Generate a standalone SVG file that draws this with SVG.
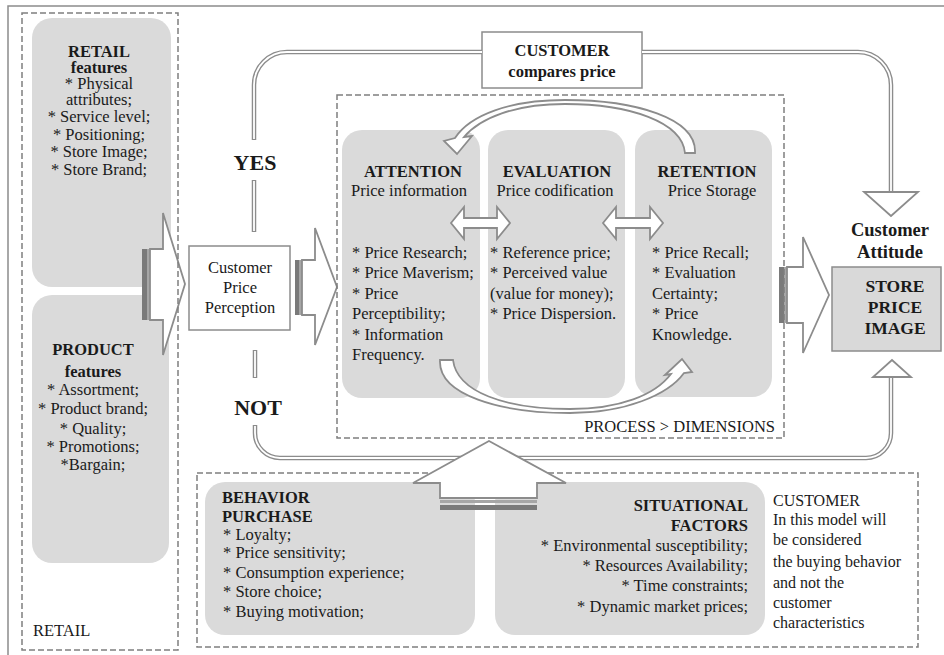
<svg xmlns="http://www.w3.org/2000/svg" width="944" height="655" viewBox="0 0 944 655" font-family="'Liberation Serif', 'Times New Roman', Times, serif">
<style>
text{font-family:'Liberation Serif','Times New Roman',Times,serif;fill:#1a1a1a;font-size:16.5px}
.b{font-weight:bold}
.c{text-anchor:middle}
.r{text-anchor:end}
.n{font-size:16px}
.gbox{fill:#dadada;stroke:none}
.dash{fill:none;stroke:#7f7f7f;stroke-width:1.5;stroke-dasharray:6 3}
.wbox{fill:#fff;stroke:#8c8c8c;stroke-width:1.5}
.arr{fill:#fff;stroke:#8c8c8c;stroke-width:1.8;stroke-linejoin:miter}
.lo{fill:none;stroke:#8c8c8c;stroke-width:4.5}
.li{fill:none;stroke:#fff;stroke-width:1.8}
.s1{fill:#7a7a7a}
.s2{fill:#a6a6a6}
</style>
<rect x="8" y="6" width="960" height="700" fill="none" stroke="#8c8c8c" stroke-width="1.5"/>

<g id="retail-features">
<rect class="gbox" x="32" y="18" width="139" height="269" rx="20"/>
<text class="b c" x="99" y="57">RETAIL</text>
<text class="b c" x="99" y="73">features</text>
<text class="c" x="99" y="89">* Physical</text>
<text class="c" x="99" y="105">attributes;</text>
<text class="c" x="99" y="122">* Service level;</text>
<text class="c" x="99" y="139.5">* Positioning;</text>
<text class="c" x="99" y="157">* Store Image;</text>
<text class="c" x="99" y="174.5">* Store Brand;</text>
</g>

<g id="product-features">
<rect class="gbox" x="32" y="295" width="137" height="268" rx="20"/>
<text class="b c" x="93" y="355">PRODUCT</text>
<text class="b c" x="93" y="377">features</text>
<text class="c" x="93" y="395">* Assortment;</text>
<text class="c" x="93" y="414">* Product brand;</text>
<text class="c" x="93" y="434">* Quality;</text>
<text class="c" x="93" y="452">* Promotions;</text>
<text class="c" x="93" y="470">*Bargain;</text>
</g>

<g id="customer-price-perception">
<rect class="wbox" x="189" y="246" width="101" height="84"/>
<text class="c" x="240" y="273">Customer</text>
<text class="c" x="240" y="293">Price</text>
<text class="c" x="240" y="313">Perception</text>
</g>

<g id="customer-compares-price">
<rect class="wbox" x="482" y="32" width="160" height="56"/>
<text class="b c" x="562" y="56">CUSTOMER</text>
<text class="b c" x="562" y="77">compares price</text>
</g>

<g id="attention">
<rect class="gbox" x="342" y="130" width="138" height="268" rx="20"/>
<text class="b c" x="413" y="177">ATTENTION</text>
<text class="c" x="409" y="196">Price information</text>
<text x="352" y="257.5">* Price Research;</text>
<text x="352" y="278">* Price Maverism;</text>
<text x="352" y="298.5">* Price</text>
<text x="352" y="319">Perceptibility;</text>
<text x="352" y="339.5">* Information</text>
<text x="352" y="360">Frequency.</text>
</g>

<g id="evaluation">
<rect class="gbox" x="488" y="130" width="137" height="268" rx="20"/>
<text class="b c" x="557" y="177">EVALUATION</text>
<text class="c" x="555" y="196">Price codification</text>
<text x="490" y="257.5">* Reference price;</text>
<text x="490" y="278">* Perceived value</text>
<text x="490" y="298.5">(value for money);</text>
<text x="490" y="319">* Price Dispersion.</text>
</g>

<g id="retention">
<rect class="gbox" x="635" y="130" width="137" height="267" rx="20"/>
<text class="b c" x="707" y="177">RETENTION</text>
<text class="c" x="712" y="196">Price Storage</text>
<text x="652" y="257.5">* Price Recall;</text>
<text x="652" y="278">* Evaluation</text>
<text x="652" y="298.5">Certainty;</text>
<text x="652" y="319">* Price</text>
<text x="652" y="339.5">Knowledge.</text>
</g>

<g id="store-price-image">
<text class="b c" x="890" y="236" style="font-size:18.5px">Customer</text>
<text class="b c" x="890" y="258" style="font-size:18.5px">Attitude</text>
<rect x="832" y="267" width="109" height="84" fill="#d9d9d9" stroke="#8c8c8c" stroke-width="1.5"/>
<text class="b c" x="895" y="292" style="font-size:17.5px">STORE</text>
<text class="b c" x="895" y="313" style="font-size:17.5px">PRICE</text>
<text class="b c" x="895" y="334" style="font-size:17.5px">IMAGE</text>
</g>

<g id="customer-container">
<rect class="dash" x="197" y="473" width="721" height="174"/>
<text class="n" x="773" y="505.5">CUSTOMER</text>
<text class="n" x="773" y="525">In this model will</text>
<text class="n" x="773" y="545">be considered</text>
<text class="n" x="773" y="567">the buying behavior</text>
<text class="n" x="773" y="588">and not the</text>
<text class="n" x="773" y="608">customer</text>
<text class="n" x="773" y="628">characteristics</text>
</g>

<g id="behavior-purchase">
<rect class="gbox" x="205" y="482" width="270" height="153" rx="20"/>
<text class="b" x="222" y="503">BEHAVIOR</text>
<text class="b" x="222" y="522">PURCHASE</text>
<text x="223" y="540">* Loyalty;</text>
<text x="223" y="558">* Price sensitivity;</text>
<text x="223" y="578">* Consumption experience;</text>
<text x="223" y="597">* Store choice;</text>
<text x="223" y="617">* Buying motivation;</text>
</g>

<g id="situational-factors">
<rect class="gbox" x="495" y="482" width="270" height="153" rx="20"/>
<text class="b r" x="748" y="510.5">SITUATIONAL</text>
<text class="b r" x="748" y="530.5">FACTORS</text>
<text class="r" x="748" y="551">* Environmental susceptibility;</text>
<text class="r" x="748" y="570.5">* Resources Availability;</text>
<text class="r" x="748" y="590.5">* Time constraints;</text>
<text class="r" x="748" y="612">* Dynamic market prices;</text>
</g>

<g id="decision-labels">
<text class="b c" x="255" y="170" style="font-size:22px">YES</text>
<text class="b c" x="258" y="415" style="font-size:22px">NOT</text>
</g>

<g id="connectors">
<path class="lo" d="M254 232 V180 M254 140 V85 A33 33 0 0 1 287 52 H482 M642 52 H858 A33 33 0 0 1 891 85 V192"/>
<path class="li" d="M254 231 V181 M254 139 V85 A33 33 0 0 1 287 52 H482 M642 52 H858 A33 33 0 0 1 891 85 V192"/>
<polygon class="arr" points="864,192 918,192 891,216"/>
<path class="lo" d="M255 350 V378 M255 425 V433 A25 25 0 0 0 280 458 H866 A25 25 0 0 0 891 433 V377"/>
<path class="li" d="M255 351 V377 M255 426 V433 A25 25 0 0 0 280 458 H866 A25 25 0 0 0 891 433 V377"/>
<polygon class="arr" points="873,377 911,377 892,360"/>

<path class="arr" stroke-width="1.3" d="M695 153 C697 118 635 100 565 100 C510 100 470 115 455 138 L444 141 L457 154 L472 136 L464 137 C480 118 515 104 565 104 C630 104 682 122 685 153 Z"/>
<path class="arr" stroke-width="1.3" d="M440 360 C438 395 500 413 570 413 C625 413 668 395 684 373 L692 372 L682 359 L665 375 L671 374 C655 395 620 409 570 409 C505 409 457 392 453 360 Z"/>

<polygon class="arr" points="451,223 464,207 464,218 497,218 497,207 510,223 497,239 497,228 464,228 464,239"/>
<polygon class="arr" points="603,223 616,207 616,218 650,218 650,207 663,223 650,239 650,228 616,228 616,239"/>

<rect class="s1" x="142" y="249" width="5" height="71"/>
<rect class="s2" x="147" y="249" width="3" height="71"/>
<polygon class="arr" points="150,249 163,249 163,213 185,284 163,355 163,320 150,320"/>

<rect class="s1" x="295" y="260" width="4" height="55"/>
<rect class="s2" x="299" y="260" width="3" height="55"/>
<polygon class="arr" points="302,260 315,260 315,228 337,287 315,345 315,315 302,315"/>

<rect class="s1" x="779" y="267" width="5" height="56"/>
<rect class="s2" x="784" y="267" width="3" height="56"/>
<polygon class="arr" points="787,267 803,267 803,237 829,295 803,353 803,323 787,323"/>

<rect class="s1" x="440" y="505" width="97" height="5"/>
<rect class="s2" x="440" y="500" width="97" height="3"/>
<polygon class="arr" points="440,498 440,483 413,483 489,441 566,483 537,483 537,498"/>
</g>

<g id="retail-container">
<rect class="dash" x="22" y="13" width="156" height="637"/>
<text x="33" y="636">RETAIL</text>
</g>

<g id="process-dimensions">
<rect class="dash" x="337" y="95" width="447" height="343"/>
<text class="r" x="775" y="432">PROCESS &gt; DIMENSIONS</text>
</g>
</svg>
